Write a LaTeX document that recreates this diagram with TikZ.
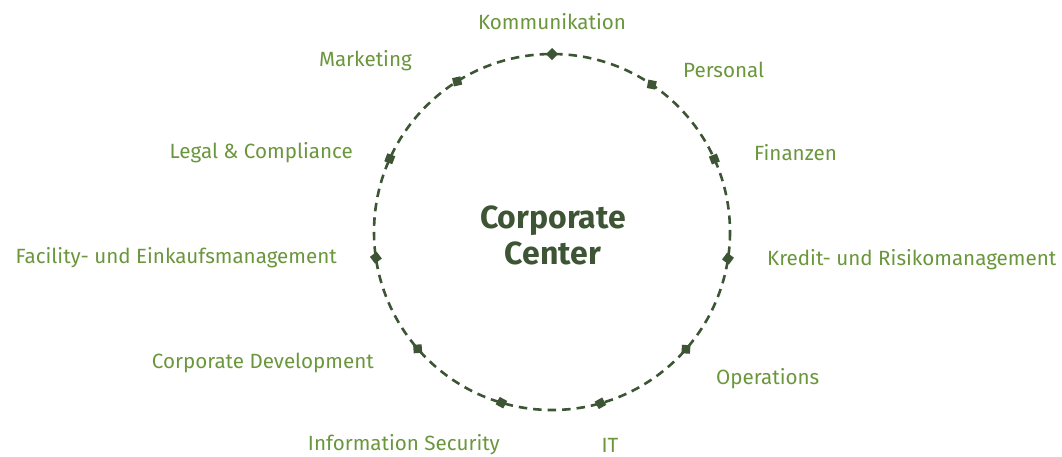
\documentclass[tikz,border=0pt]{standalone}
\usepackage{fontspec}
\usetikzlibrary{calc}
\setmainfont{Fira Sans}
\definecolor{lbl}{RGB}{106,150,60}
\definecolor{dk}{RGB}{61,85,52}
\begin{document}
\begin{tikzpicture}[x=1pt,y=-1pt,
  lab/.style={text=lbl,font=\fontsize{20.6}{22}\selectfont,inner sep=0pt},
  mk/.style={fill=dk,minimum size=8.5pt,inner sep=0pt,draw=none}]
\useasboundingbox (0,0) rectangle (1062,456);
\coordinate (c) at (552,232);
\draw[dk,line width=2.6pt,dash pattern=on 8.5pt off 6pt] (c) circle[radius=178];
\foreach \a/\n in {90/m1,55.9/m2,24.2/m3,-8.6/m4,-41.2/m5,-74.2/m6,-106.5/m7,-139/m8,-171.7/m9,155.7/m10,122.2/m11}{
  \node[mk,rotate=-\a+45] (\n) at ($(c)+(\a:178 and -178)$) {};
}
\node[lab,anchor=center] (t1) at (552,22) {Kommunikation};
\node[lab,anchor=west] (t2) at (683,70) {Personal};
\node[lab,anchor=west] (t3) at (754,153) {Finanzen};
\node[lab,anchor=west] (t4) at (767,260) {Kredit- und Risikomanagement};
\node[lab,anchor=west] (t5) at (716,379) {Operations};
\node[lab,anchor=center] (t6) at (610,445) {IT};
\node[lab,anchor=east] (t7) at (500,445) {Information Security};
\node[lab,anchor=east] (t8) at (374,363) {Corporate Development};
\node[lab,anchor=east] (t9) at (337,258) {Facility- und Einkaufsmanagement};
\node[lab,anchor=east] (t10) at (353,153) {Legal \& Compliance};
\node[lab,anchor=east] (t11) at (412,61) {Marketing};
\node[text=dk,font=\fontsize{32}{36}\selectfont\bfseries,align=center] (cc) at (553,235) {Corporate\\Center};
\end{tikzpicture}
\end{document}
